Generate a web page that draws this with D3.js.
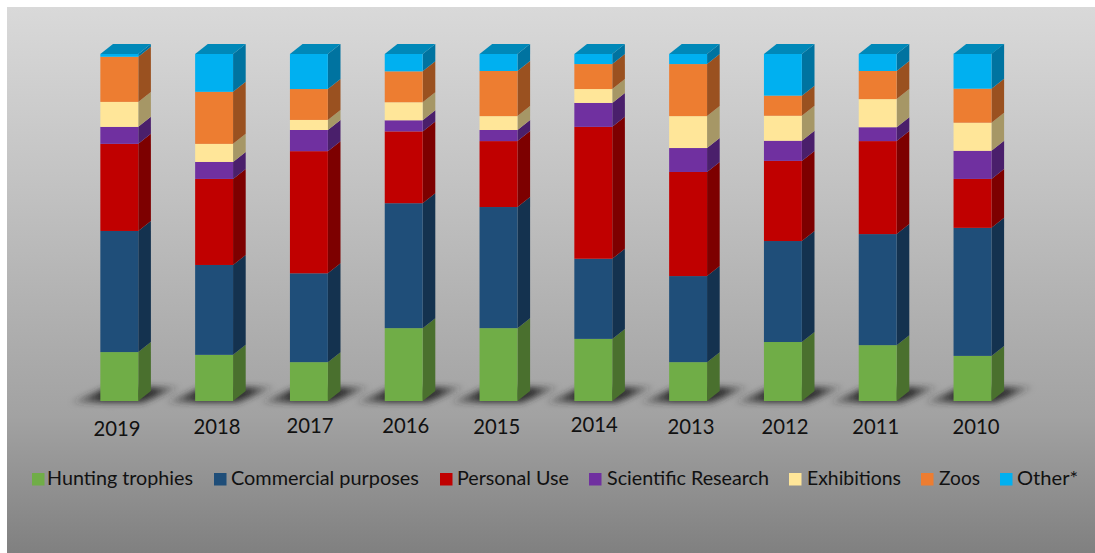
<!DOCTYPE html>
<html><head><meta charset="utf-8">
<script src="https://cdn.jsdelivr.net/npm/d3@7"></script>
<style>html,body{margin:0;padding:0;background:#fff}svg{display:block}text{font-family:Lato,"Open Sans",sans-serif;fill:#111}</style>
</head><body><svg id="c" width="1095" height="553"></svg>
<script>
const years=["2019","2018","2017","2016","2015","2014","2013","2012","2011","2010"];
const seriesNames=["Hunting trophies","Commercial purposes","Personal Use","Scientific Research","Exhibitions","Zoos","Other*"];
const hunting=[14.1,13.3,11.2,21.0,21.0,17.9,11.2,17.0,16.1,13.0];
const commercial=[34.9,25.9,25.6,36.0,34.9,23.1,24.8,29.1,32.0,36.9];
const personal=[25.1,24.8,35.2,20.7,19.0,38.0,30.0,23.1,26.8,14.1];
const scientific=[4.9,4.9,6.1,3.2,3.2,6.9,6.9,5.8,4.0,8.1];
const exhibitions=[7.2,5.2,2.9,5.2,4.0,4.0,9.2,7.2,8.1,8.1];
const zoos=[13.0,15.0,8.9,8.9,13.0,7.2,15.0,5.8,8.1,9.8];
const other=[0.8,10.9,10.1,5.0,4.9,2.9,2.9,12.0,4.9,10.1];
const seriesValues=[hunting,commercial,personal,scientific,exhibitions,zoos,other];
const frontColors=["#70ad47","#1f4e79","#c00000","#7030a0","#ffe699","#ed7d31","#00b0f0"];
const sideColors=["#4a702e","#14324f","#7d0000","#4a1f6b","#a69766","#9a5120","#0073a0"];
const topColor="#0088b8";
const labelNudgeX=[-2.3,2.9,1.1,2,-1.8,1,2.9,2.1,-2,3.5];
const labelNudgeY=[3,1,0,0.3,0.7,-1.3,1,1,1.3,1.3];
const legendX=[32,214,440,589,789,921,1000];
const legendTextX=[47,231,457,607,807,939,1017];
const legendWidths=[146,188,112,162,94,41,61];

const svg=d3.select("#c");
const defs=svg.append("defs");
const bg=defs.append("linearGradient").attr("id","bg").attr("x1",0).attr("x2",0).attr("y1",0).attr("y2",1);
bg.append("stop").attr("offset",0).attr("stop-color","#d9d9d9");
bg.append("stop").attr("offset",0.3).attr("stop-color","#c4c4c4");
bg.append("stop").attr("offset",0.75).attr("stop-color","#a2a2a2");
bg.append("stop").attr("offset",1).attr("stop-color","#808080");
const sh=defs.append("linearGradient").attr("id","sh").attr("x1",0).attr("x2",1).attr("y1",0).attr("y2",0);
sh.append("stop").attr("offset",0).attr("stop-color","#2a2a2a").attr("stop-opacity",.15);
sh.append("stop").attr("offset",.3).attr("stop-color","#2a2a2a").attr("stop-opacity",1);
sh.append("stop").attr("offset",.75).attr("stop-color","#2a2a2a").attr("stop-opacity",.95);
sh.append("stop").attr("offset",1).attr("stop-color","#2a2a2a").attr("stop-opacity",.1);
defs.append("filter").attr("id","blur").attr("x","-20%").attr("y","-60%").attr("width","140%").attr("height","220%")
  .append("feGaussianBlur").attr("stdDeviation",3);

svg.append("rect").attr("x",7).attr("y",7).attr("width",1088).attr("height",546).attr("fill","url(#bg)");

const x=d3.scaleBand().domain(years).range([71.9,1019.9]).paddingInner(0.6).paddingOuter(0.3);
const y=d3.scaleLinear().domain([0,100]).range([401,54]);
const bw=x.bandwidth(), dx=bw/3, dy=10;

const rows=years.map((yr,i)=>{const r={year:yr};seriesNames.forEach((s,j)=>r[s]=seriesValues[j][i]);return r;});
const stacked=d3.stack().keys(seriesNames)(rows);

svg.append("g").selectAll("polygon").data(years).join("polygon")
  .attr("points",d=>{const l=x(d),b=y(0);return [[l-30,b+1.5],[l+bw+4,b+1.5],[l+bw+42,b-14],[l+8,b-14]].join(" ");})
  .attr("fill","url(#sh)").attr("filter","url(#blur)");

const bars=svg.append("g");
stacked.forEach((layer,j)=>{
  const g=bars.append("g");
  g.selectAll("path.side").data(layer).join("path").attr("class","side")
    .attr("d",d=>{const r=x(d.data.year)+bw,t=y(d[1]),b=y(d[0]);
      return `M${r},${b}L${r+dx},${b-dy}L${r+dx},${t-dy}L${r},${t}Z`;})
    .attr("fill",sideColors[j]);
  g.selectAll("rect").data(layer).join("rect")
    .attr("x",d=>x(d.data.year)).attr("width",bw)
    .attr("y",d=>y(d[1])).attr("height",d=>y(d[0])-y(d[1]))
    .attr("fill",frontColors[j]);
});
bars.append("g").selectAll("path").data(years).join("path")
  .attr("d",d=>{const l=x(d),t=y(100);return `M${l},${t}L${l+dx},${t-dy}L${l+bw+dx},${t-dy}L${l+bw},${t}Z`;})
  .attr("fill",topColor);

const axis=svg.append("g").attr("transform","translate(0,415)").call(d3.axisBottom(x).tickSize(0).tickPadding(0));
axis.select(".domain").remove();
axis.selectAll("text").attr("font-size",21.5).attr("textLength",47).attr("lengthAdjust","spacingAndGlyphs")
  .attr("dy",null).attr("dx",(d,i)=>labelNudgeX[i]).attr("y",(d,i)=>18+labelNudgeY[i]);

const lg=svg.append("g");
seriesNames.forEach((s,j)=>{
  lg.append("rect").attr("x",legendX[j]).attr("y",473).attr("width",12.5).attr("height",12.5).attr("fill",frontColors[j]);
  lg.append("text").attr("x",legendTextX[j]).attr("y",485).attr("font-size",19)
    .attr("textLength",legendWidths[j]).attr("lengthAdjust","spacingAndGlyphs").text(s);
});
</script></body></html>
